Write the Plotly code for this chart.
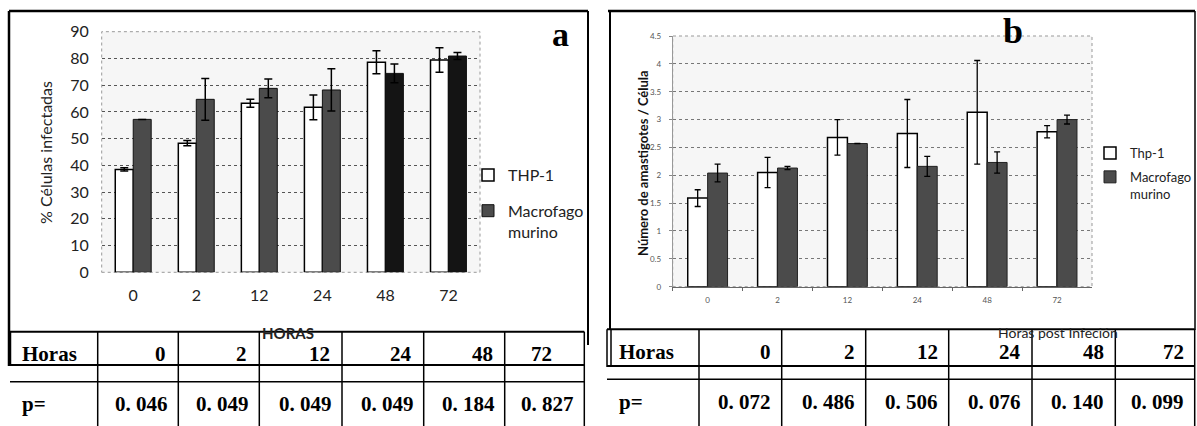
import plotly.graph_objects as go

# ---------------- data ----------------
horas = ["0", "2", "12", "24", "48", "72"]

# panel a: % infected cells
thp_pct = [38.5, 48.3, 63.2, 61.7, 78.6, 79.4]
thp_pct_err = [0.6, 1.0, 1.5, 4.6, 4.3, 4.6]
mac_pct = [57.2, 64.7, 68.8, 68.2, 74.4, 80.9]
mac_pct_err = [None, 7.8, 3.5, 7.9, 3.5, 1.3]

# panel b: amastigotes per cell
thp_ama = [1.59, 2.05, 2.68, 2.75, 3.13, 2.78]
thp_ama_err = [0.15, 0.27, 0.32, 0.61, 0.93, 0.11]
mac_ama = [2.04, 2.13, 2.57, 2.16, 2.23, 3.0]
mac_ama_err = [0.16, 0.03, None, 0.18, 0.19, 0.08]

yticks_a = [0, 10, 20, 30, 40, 50, 60, 70, 80, 90]
yticks_b = [0, 0.5, 1, 1.5, 2, 2.5, 3, 3.5, 4, 4.5]
yticklabels_b = ["0", "0.5", "1", "1.5", "2", "2.5", "3", "3.5", "4", "4.5"]

p_a = ["0. 046", "0. 049", "0. 049", "0. 049", "0. 184", "0. 827"]
p_b = ["0. 072", "0. 486", "0. 506", "0. 076", "0. 140", "0. 099"]

# ---------------- layout helpers ----------------
W, H = 1197, 426


def px(x):
    return x / W


def py(y):
    return 1 - y / H


EXCEL = "Lato, 'Open Sans', sans-serif"
SERIF = "'Liberation Serif', 'DejaVu Serif', serif"

mac_a_colors = ["#4b4b4b", "#4b4b4b", "#4b4b4b", "#4b4b4b", "#141414", "#141414"]

fig = go.Figure()

fig.add_trace(go.Bar(
    x=horas, y=thp_pct, name="THP-1", xaxis="x", yaxis="y",
    marker=dict(color="white", line=dict(color="black", width=1.5)),
    error_y=dict(type="data", array=thp_pct_err, color="black", thickness=1.5, width=4),
    legend="legend", legendgroup="a1",
))
fig.add_trace(go.Bar(
    x=horas, y=mac_pct, name="Macrofago<br>murino", xaxis="x", yaxis="y",
    marker=dict(color=mac_a_colors, line=dict(color="#111", width=1)),
    error_y=dict(type="data", array=mac_pct_err, color="black", thickness=1.5, width=4),
    legend="legend", legendgroup="a2",
))
fig.add_trace(go.Bar(
    x=horas, y=thp_ama, name="Thp-1", xaxis="x2", yaxis="y2",
    marker=dict(color="white", line=dict(color="black", width=1.5)),
    error_y=dict(type="data", array=thp_ama_err, color="black", thickness=1.3, width=3),
    legend="legend2", legendgroup="b1",
))
fig.add_trace(go.Bar(
    x=horas, y=mac_ama, name="Macrofago<br>murino", xaxis="x2", yaxis="y2",
    marker=dict(color="#4b4b4b", line=dict(color="#222", width=1)),
    error_y=dict(type="data", array=mac_ama_err, color="black", thickness=1.3, width=3),
    legend="legend2", legendgroup="b2",
))

shapes = []


def line(x0, y0, x1, y1, w=1.5, color="black", dash="solid"):
    shapes.append(dict(type="line", xref="paper", yref="paper",
                       x0=px(x0), y0=py(y0), x1=px(x1), y1=py(y1),
                       line=dict(color=color, width=w, dash=dash)))


# outer chart boxes
line(9, 11, 588, 11, 2.5)
line(9, 11, 9, 366, 2.5)
line(588, 11, 588, 345, 2)
line(608, 11, 1195, 11, 2.5)
line(610, 11, 610, 330, 2)
line(1195, 11, 1195, 330, 1.5)

# plot-area frames (dotted)
for xr, yr in (("x domain", "y domain"), ("x2 domain", "y2 domain")):
    shapes.append(dict(type="rect", xref=xr, yref=yr, x0=0, x1=1, y0=0, y1=1,
                       line=dict(color="#999", width=1, dash="dot"), layer="below"))

# table a
cols_a = [10, 97.7, 178.3, 259.3, 342, 423.7, 504.7, 584.3]
line(10, 331.7, 584.3, 331.7, 2)
line(10, 365, 584.3, 365, 2)
line(10, 381.7, 584.3, 381.7, 1.5)
line(10, 331.7, 10, 366, 2.5)
for c in cols_a[1:]:
    line(c, 331.7, c, 426, 1.5)

# table b
cols_b = [607, 699, 781.7, 865.7, 948.7, 1032, 1115.3, 1194.7]
line(607, 329.3, 1194.7, 329.3, 2)
line(607, 366, 1194.7, 366, 2)
line(607, 379.3, 1194.7, 379.3, 1.5)
line(607, 329.3, 607, 367, 1.5)
line(611, 329.3, 611, 367, 1.5)
for c in cols_b[1:]:
    line(c, 329.3, c, 426, 1.5)

ann = []


def text(x, y, s, size, family=EXCEL, color="#111", xanchor="center", yanchor="middle",
         angle=0, bold=False):
    ann.append(dict(xref="paper", yref="paper", x=px(x), y=py(y), text=("<b>%s</b>" % s) if bold else s,
                    showarrow=False, xanchor=xanchor, yanchor=yanchor, textangle=angle,
                    font=dict(family=family, size=size, color=color)))


# table a text
text(20, 354, "Horas", 21, SERIF, "black", xanchor="left", bold=True)
text(20, 404, "p=", 21, SERIF, "black", xanchor="left", bold=True)
for i, h in enumerate(horas):
    l, r = cols_a[i + 1], cols_a[i + 2]
    if i == 5:
        text((l + r) / 2 - 3, 354, h, 21, SERIF, "black", bold=True)
    else:
        text(r - 10, 354, h, 21, SERIF, "black", xanchor="right", bold=True)
    text(r - 8, 404, p_a[i], 21, SERIF, "black", xanchor="right", bold=True)

# table b text
text(617, 352, "Horas", 21, SERIF, "black", xanchor="left", bold=True)
text(617, 402, "p=", 21, SERIF, "black", xanchor="left", bold=True)
for i, h in enumerate(horas):
    r = cols_b[i + 2]
    text(r - 9, 352, h, 21, SERIF, "black", xanchor="right", bold=True)
    text(r - 9, 402, p_b[i], 21, SERIF, "black", xanchor="right", bold=True)

# axis titles and panel letters
text(288, 333, "HORAS", 15, EXCEL, "#222", bold=True)
text(1058, 332, "Horas post Infeción", 14, EXCEL, "#222")
text(46, 153, "% Células infectadas", 16, EXCEL, "#222", angle=-90)
text(643, 163, "Número de amastigotes / Célula", 13, EXCEL, "#111", angle=-90, bold=True)
text(560, 34, "a", 34, SERIF, "black", bold=True)
text(1013, 31, "b", 36, SERIF, "black", bold=True)

fig.update_layout(
    width=W, height=H, autosize=False,
    margin=dict(l=0, r=0, t=0, b=0, pad=0, autoexpand=False),
    paper_bgcolor="white", plot_bgcolor="#f6f6f6",
    barmode="group", bargap=0.43, bargroupgap=0,
    shapes=shapes, annotations=ann,
    xaxis=dict(domain=[px(101.7), px(480)], anchor="y", type="category",
               tickfont=dict(family=EXCEL, size=16, color="#222"),
               ticks="", ticklabelstandoff=12, showgrid=False, showline=False,
               automargin=False),
    yaxis=dict(domain=[py(272.3), py(31.7)], anchor="x", range=[0, 90],
               tickvals=yticks_a, ticks="", ticklabelstandoff=12,
               tickfont=dict(family=EXCEL, size=16, color="#222"),
               showgrid=True, gridcolor="#555", griddash="dot", gridwidth=1,
               zeroline=False, showline=False, automargin=False),
    xaxis2=dict(domain=[px(672.7), px(1092)], anchor="y2", type="category",
                tickfont=dict(family=EXCEL, size=8, color="#555"),
                ticks="outside", ticklen=3, tickcolor="#666", tickson="boundaries",
                showline=True, linecolor="#666", linewidth=1, showgrid=False,
                ticklabelstandoff=6, automargin=False),
    yaxis2=dict(domain=[py(286.7), py(36)], anchor="x2", range=[0, 4.5],
                tickvals=yticks_b, ticktext=yticklabels_b,
                tickfont=dict(family=EXCEL, size=8, color="#555"),
                ticks="outside", ticklen=3, tickcolor="#888",
                showline=True, linecolor="#999", linewidth=1,
                showgrid=True, gridcolor="#777", griddash="dot", gridwidth=1,
                zeroline=False, ticklabelstandoff=6, automargin=False),
    legend=dict(x=px(468), y=py(158), xanchor="left", yanchor="top",
                bgcolor="rgba(0,0,0,0)", font=dict(family=EXCEL, size=16, color="#222"),
                tracegroupgap=12, valign="top", itemwidth=30),
    legend2=dict(x=px(1090), y=py(138), xanchor="left", yanchor="top",
                 bgcolor="rgba(0,0,0,0)", font=dict(family=EXCEL, size=13, color="#222"),
                 tracegroupgap=4, valign="top", itemwidth=30),
)

post = (
    "var d=document.getElementById('{plot_id}');"
    "d.style.position='fixed';d.style.top='0px';d.style.left='0px';"
    "document.body.style.margin='0';"
    "document.body.style.overflow='hidden';"
    "document.documentElement.style.overflow='hidden';"
)

fig.write_html("out.html", config={"displayModeBar": False}, post_script=post)
